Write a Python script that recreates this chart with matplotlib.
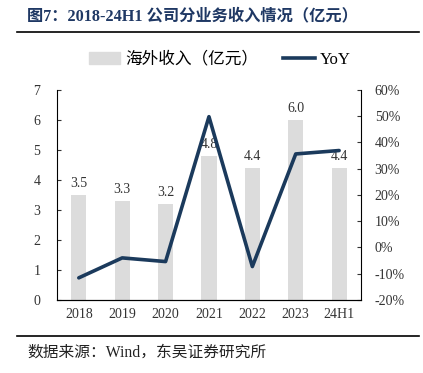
import matplotlib
matplotlib.use("Agg")
import matplotlib.pyplot as plt
from matplotlib.lines import Line2D

plt.rcParams['font.family'] = ['Liberation Serif', 'Noto Sans CJK SC', 'DejaVu Sans']

years = ["2018", "2019", "2020", "2021", "2022", "2023", "24H1"]
revenue = [3.5, 3.3, 3.2, 4.8, 4.4, 6.0, 4.4]
yoy = [-11.6, -4.0, -5.4, 49.8, -7.3, 35.6, 36.9]

BAR = "#dcdcdc"
LINE = "#1b3a5c"
TITLE = "#1f3864"

fig = plt.figure(figsize=(4.23, 3.73), dpi=100)
ax = fig.add_axes([0.135, 0.196, 0.718, 0.563])
ax2 = ax.twinx()

x = range(len(years))
ax.bar(x, revenue, width=0.35, color=BAR, zorder=2)
for i, v in enumerate(revenue):
    ax.text(i, v + 0.15, f"{v:.1f}", ha="center", va="bottom", fontsize=10, color="#333333")
ax.set_ylim(0, 7)
ax.set_xlim(-0.5, len(years) - 0.5)
ax.set_yticks(range(8))
ax.set_xticks(list(x))
ax.set_xticklabels(years)

ax2.plot(x, yoy, color=LINE, linewidth=2.6, solid_capstyle="round", zorder=3)
ax2.set_ylim(-20, 60)
ax2.set_yticks(range(-20, 61, 10))
ax2.set_yticklabels([f"{t}%" for t in range(-20, 61, 10)])

for a in (ax, ax2):
    a.spines["top"].set_visible(False)
    a.tick_params(axis="y", direction="in", length=3, labelsize=10, colors="#333333")
    a.tick_params(axis="x", length=0, labelsize=10, colors="#333333", pad=6)
ax.spines["right"].set_visible(False)
ax2.spines["left"].set_visible(False)
ax.tick_params(axis="y", pad=12)
ax2.tick_params(axis="y", pad=10)

# title, rules, legend, source
fig.text(0.064, 0.955, "图7：2018-24H1 公司分业务收入情况（亿元）", fontsize=11.7,
         fontweight="bold", color=TITLE, va="center")
fig.add_artist(Line2D([0.04, 0.99], [0.915, 0.915], color="black", linewidth=1.2))
fig.add_artist(Line2D([0.04, 0.99], [0.10, 0.10], color="black", linewidth=1.2))
fig.text(0.064, 0.055, "数据来源：Wind，东吴证券研究所", fontsize=11.3, color="#222222", va="center")

handles = [plt.Rectangle((0, 0), 1, 1, color=BAR),
           Line2D([], [], color=LINE, linewidth=2.6)]
fig.legend(handles, ["海外收入（亿元）", "YoY"], loc="center", bbox_to_anchor=(0.52, 0.84),
           ncol=2, frameon=False, fontsize=12, handlelength=1.9, handleheight=0.7,
           handletextpad=0.3, columnspacing=1.5)

fig.savefig("out.png", dpi=100)
